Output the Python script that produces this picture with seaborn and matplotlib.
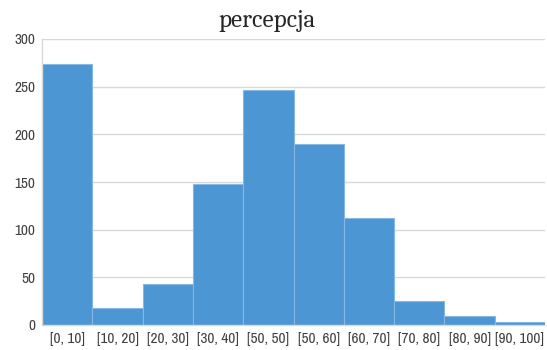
import matplotlib
matplotlib.use("Agg")
import matplotlib.pyplot as plt
import seaborn as sns
import pandas as pd

categories = ["[0, 10]", "[10, 20]", "[20, 30]", "[30, 40]", "[50, 50]",
              "[50, 60]", "[60, 70]", "[70, 80]", "[80, 90]", "[90, 100]"]
counts = [274, 18, 43, 148, 247, 190, 112, 25, 9, 3]
yticks = [0, 50, 100, 150, 200, 250, 300]
title = "percepcja"

sns.set_theme(style="white")
df = pd.DataFrame({"cat": categories, "count": counts})

fig = plt.figure(figsize=(5.47, 3.5), dpi=100)
ax = fig.add_axes([42/547, 1 - 325/350, 503/547, (325 - 39)/350])

sns.barplot(data=df, x="cat", y="count", ax=ax, width=1.0, color="#4C96D3",
            saturation=1, edgecolor="#86B8E4", linewidth=0.8)

ax.set_ylim(0, 300)
ax.set_xlim(-0.5, len(categories) - 0.5)
ax.set_yticks(yticks)
ax.yaxis.grid(True, color="#D9D9D9", linewidth=1)
ax.set_axisbelow(True)
for s in ["top", "right"]:
    ax.spines[s].set_visible(False)
ax.spines["left"].set_color("#D9D9D9")
ax.spines["bottom"].set_color("#D9D9D9")
ax.spines["left"].set_linewidth(1)
ax.spines["bottom"].set_linewidth(1)
ax.set_xlabel("")
ax.set_ylabel("")
ax.tick_params(axis="both", length=0, colors="#404040", pad=5)
for lab in ax.get_xticklabels() + ax.get_yticklabels():
    lab.set_family(["Archivo Narrow", "Liberation Sans", "DejaVu Sans"])
    lab.set_fontsize(11)

fig.text(267/547, 1 - 21/350, title, ha="center", va="center", fontsize=18,
         family=["Caladea", "Liberation Serif", "DejaVu Serif"], color="#262626")

fig.savefig("out.png", dpi=100)
